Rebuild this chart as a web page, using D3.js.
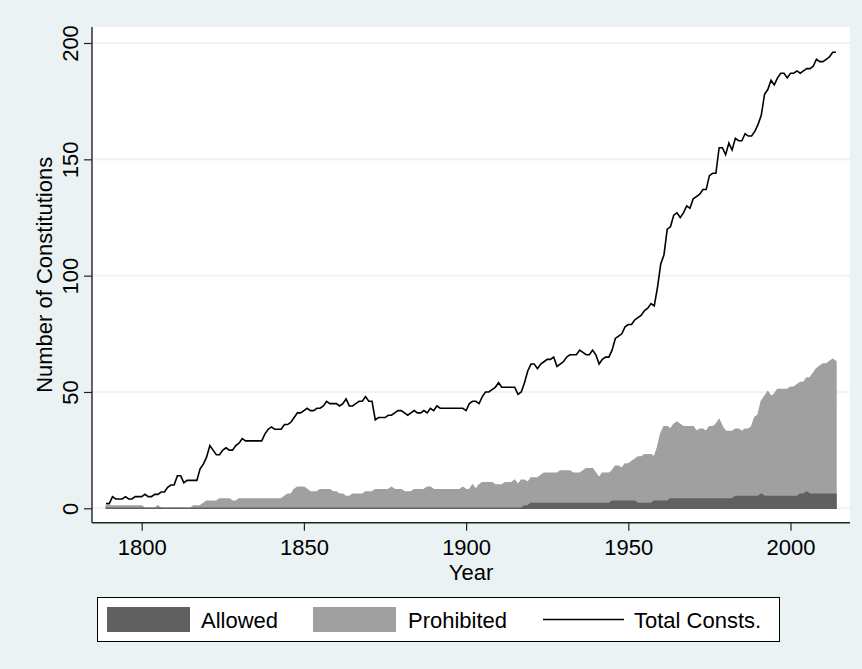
<!DOCTYPE html>
<html>
  <head>
    <meta charset="utf-8">
    <script src="https://cdn.jsdelivr.net/npm/d3@7"></script>
    <style type="text/css">
      body { margin: 0; background: #eaf2f3; }
      text { font-family: "Liberation Sans", Arial, Helvetica, sans-serif; fill: #000; }
    </style>
  </head>
  <body>
    <script type="text/javascript">
      // Years covered by the series (one value per year)
      var firstYear = 1789;
      var lastYear = 2014;
      var years = d3.range(firstYear, lastYear + 1);

      // Total number of constitutions in force, per year
      var total = [
        2, 2, 5, 4, 4, 4, 5, 4, 4, 5,
        5, 5, 6, 5, 5, 6, 6, 7, 7, 9,
        10, 10, 14, 14, 11, 12, 12, 12, 12, 17,
        19, 22, 27, 25, 23, 23, 25, 26, 25, 25,
        27, 28, 30, 29, 29, 29, 29, 29, 29, 32,
        34, 35, 34, 34, 34, 36, 36, 37, 39, 41,
        41, 42, 43, 42, 42, 43, 43, 44, 46, 45,
        45, 45, 44, 45, 47, 44, 44, 45, 46, 46,
        48, 46, 46, 38, 39, 39, 39, 40, 40, 41,
        42, 42, 41, 40, 41, 42, 41, 41, 42, 41,
        43, 42, 44, 43, 43, 43, 43, 43, 43, 43,
        43, 42, 45, 46, 46, 45, 48, 50, 50, 51,
        52, 54, 52, 52, 52, 52, 52, 49, 50, 54,
        59, 62, 62, 60, 62, 63, 64, 64, 65, 61,
        62, 63, 65, 66, 66, 66, 68, 67, 66, 66,
        68, 66, 62, 64, 65, 65, 68, 73, 74, 75,
        78, 79, 79, 81, 82, 83, 85, 86, 88, 87,
        95, 105, 109, 120, 121, 126, 127, 125, 127, 130,
        129, 133, 134, 135, 137, 137, 143, 144, 144, 155,
        155, 152, 157, 154, 159, 158, 158, 161, 160, 160,
        162, 165, 169, 178, 180, 184, 182, 185, 187, 187,
        185, 187, 187, 188, 187, 188, 189, 189, 190, 193,
        192, 192, 193, 194, 196, 196
      ];

      // Constitutions that prohibit it, per year
      var prohibited = [
        1, 1, 1, 1, 1, 1, 1, 1, 1, 1,
        1, 1, 0, 0, 0, 0, 1, 0, 0, 0,
        0, 0, 0, 0, 0, 0, 0, 1, 1, 1,
        2, 3, 3, 3, 3, 4, 4, 4, 4, 3,
        3, 4, 4, 4, 4, 4, 4, 4, 4, 4,
        4, 4, 4, 4, 4, 5, 6, 6, 8, 9,
        9, 9, 8, 7, 7, 7, 8, 8, 8, 8,
        7, 7, 6, 6, 5, 5, 6, 6, 6, 6,
        7, 7, 7, 8, 8, 8, 8, 8, 9, 8,
        8, 8, 7, 7, 7, 8, 8, 8, 8, 9,
        9, 8, 8, 8, 8, 8, 8, 8, 8, 8,
        9, 8, 8, 10, 8, 10, 11, 11, 11, 11,
        10, 10, 10, 11, 11, 11, 12, 10, 12, 12,
        11, 13, 13, 13, 14, 15, 15, 15, 15, 15,
        16, 16, 16, 16, 15, 15, 15, 16, 17, 17,
        17, 15, 13, 15, 15, 15, 16, 18, 18, 17,
        19, 19, 20, 21, 22, 22, 23, 23, 23, 22,
        26, 32, 35, 35, 34, 36, 37, 36, 35, 35,
        35, 35, 33, 34, 34, 33, 35, 35, 36, 38,
        35, 33, 33, 33, 34, 34, 33, 34, 34, 35,
        39, 40, 46, 48, 50, 48, 49, 51, 51, 51,
        51, 52, 52, 53, 54, 54, 56, 56, 58, 60,
        61, 62, 62, 63, 64, 63
      ];

      // Constitutions that allow it, per year
      var allowed = [
        0, 0, 0, 0, 0, 0, 0, 0, 0, 0,
        0, 0, 0, 0, 0, 0, 0, 0, 0, 0,
        0, 0, 0, 0, 0, 0, 0, 0, 0, 0,
        0, 0, 0, 0, 0, 0, 0, 0, 0, 0,
        0, 0, 0, 0, 0, 0, 0, 0, 0, 0,
        0, 0, 0, 0, 0, 0, 0, 0, 0, 0,
        0, 0, 0, 0, 0, 0, 0, 0, 0, 0,
        0, 0, 0, 0, 0, 0, 0, 0, 0, 0,
        0, 0, 0, 0, 0, 0, 0, 0, 0, 0,
        0, 0, 0, 0, 0, 0, 0, 0, 0, 0,
        0, 0, 0, 0, 0, 0, 0, 0, 0, 0,
        0, 0, 0, 0, 0, 0, 0, 0, 0, 0,
        0, 0, 0, 0, 0, 0, 0, 0, 0, 1,
        1, 2, 2, 2, 2, 2, 2, 2, 2, 2,
        2, 2, 2, 2, 2, 2, 2, 2, 2, 2,
        2, 2, 2, 2, 2, 2, 3, 3, 3, 3,
        3, 3, 3, 3, 2, 2, 2, 2, 2, 3,
        3, 3, 3, 3, 4, 4, 4, 4, 4, 4,
        4, 4, 4, 4, 4, 4, 4, 4, 4, 4,
        4, 4, 4, 4, 5, 5, 5, 5, 5, 5,
        5, 5, 6, 5, 5, 5, 5, 5, 5, 5,
        5, 5, 5, 5, 6, 6, 7, 6, 6, 6,
        6, 6, 6, 6, 6, 6
      ];

      // Axis ticks and legend entries
      var xTicks = [1800, 1850, 1900, 1950, 2000];
      var yTicks = [0, 50, 100, 150, 200];
      var legendLabels = ["Allowed", "Prohibited", "Total Consts."];

      // Size of the svg and the white plot region inside it
      var width = 862;
      var height = 669;
      var plot = {left: 92, right: 850, top: 27, bottom: 522.7};

      var svg = d3.select("body").append("svg")
        .attr("width", width).attr("height", height);

      // Light blue graph region, white plot region
      svg.append("rect").attr("width", width).attr("height", height)
        .attr("fill", "#eaf2f3");
      svg.append("rect").attr("x", plot.left).attr("y", plot.top)
        .attr("width", plot.right - plot.left)
        .attr("height", plot.bottom - plot.top)
        .attr("fill", "#ffffff");

      // Scales
      var xScale = d3.scaleLinear().domain([1800, 2000]).range([141.7, 790.5]);
      var yScale = d3.scaleLinear().domain([0, 200]).range([508.3, 43]);

      // Horizontal gridlines at every y tick
      svg.append("g").selectAll("line").data(yTicks).enter().append("line")
        .attr("x1", plot.left).attr("x2", plot.right)
        .attr("y1", function(d){ return yScale(d); })
        .attr("y2", function(d){ return yScale(d); })
        .attr("stroke", "#eaf2f3").attr("stroke-width", 1.6);

      // Builds an area going from zero up to the given series
      function areaFor(series) {
        return d3.area()
          .x(function(d, i){ return xScale(years[i]); })
          .y0(yScale(0))
          .y1(function(d){ return yScale(d); })(series);
      }

      // Prohibited (light) first, allowed (dark) over it
      svg.append("path").attr("d", areaFor(prohibited))
        .attr("fill", "#a0a0a0").attr("stroke", "#a0a0a0").attr("stroke-width", 1.6);
      svg.append("path").attr("d", areaFor(allowed))
        .attr("fill", "#606060").attr("stroke", "#606060").attr("stroke-width", 1.6);

      // Total constitutions line
      var line = d3.line()
        .x(function(d, i){ return xScale(years[i]); })
        .y(function(d){ return yScale(d); });
      svg.append("path").attr("d", line(total))
        .attr("fill", "none").attr("stroke", "#000").attr("stroke-width", 1.6);

      // X axis
      var xAxis = d3.axisBottom(xScale).tickValues(xTicks)
        .tickSize(8).tickPadding(9).tickFormat(d3.format("d"));
      var gx = svg.append("g")
        .attr("transform", "translate(0," + plot.bottom + ")")
        .call(xAxis);
      gx.select(".domain").attr("d", "M" + plot.left + ",0H" + plot.right)
        .attr("stroke", "#222").attr("stroke-width", 1.4);
      gx.selectAll(".tick line").attr("stroke", "#222").attr("stroke-width", 1.2);
      gx.selectAll("text").style("font-size", "22px")
        .style("font-family", "'Liberation Sans', Arial, sans-serif").attr("fill", "#000");

      // Y axis, labels rotated like the original
      var yAxis = d3.axisLeft(yScale).tickValues(yTicks).tickSize(8);
      var gy = svg.append("g")
        .attr("transform", "translate(" + plot.left + ",0)")
        .call(yAxis);
      gy.select(".domain").attr("d", "M0," + plot.top + "V" + plot.bottom)
        .attr("stroke", "#222").attr("stroke-width", 1.4);
      gy.selectAll(".tick line").attr("stroke", "#222").attr("stroke-width", 1.2);
      gy.selectAll("text")
        .attr("transform", "rotate(-90)")
        .attr("x", 0).attr("y", -14).attr("dy", 0)
        .style("text-anchor", "middle").style("font-size", "22px")
        .style("font-family", "'Liberation Sans', Arial, sans-serif").attr("fill", "#000");

      // Axis titles
      svg.append("text")
        .attr("x", (plot.left + plot.right) / 2).attr("y", 580)
        .style("text-anchor", "middle").style("font-size", "22px")
        .text("Year");
      svg.append("text")
        .attr("transform", "translate(52," + ((plot.top + plot.bottom) / 2) + ") rotate(-90)")
        .style("text-anchor", "middle").style("font-size", "22px")
        .text("Number of Constitutions");

      // Legend box
      var legend = svg.append("g");
      legend.append("rect").attr("x", 97.5).attr("y", 597.5)
        .attr("width", 682).attr("height", 44)
        .attr("fill", "#ffffff").attr("stroke", "#000").attr("stroke-width", 1);

      var keyX = [107, 313, 543];
      var labelX = [201, 408, 634];
      legend.append("rect").attr("x", keyX[0]).attr("y", 607)
        .attr("width", 83).attr("height", 25).attr("fill", "#606060");
      legend.append("rect").attr("x", keyX[1]).attr("y", 607)
        .attr("width", 83).attr("height", 25).attr("fill", "#a0a0a0");
      legend.append("line").attr("x1", keyX[2]).attr("x2", keyX[2] + 81)
        .attr("y1", 619.5).attr("y2", 619.5)
        .attr("stroke", "#000").attr("stroke-width", 1.6);

      legend.selectAll("text.lab").data(legendLabels).enter().append("text")
        .attr("class", "lab")
        .attr("x", function(d, i){ return labelX[i]; })
        .attr("y", 628)
        .style("font-size", "22px")
        .text(function(d){ return d; });
    </script>
  </body>
</html>
